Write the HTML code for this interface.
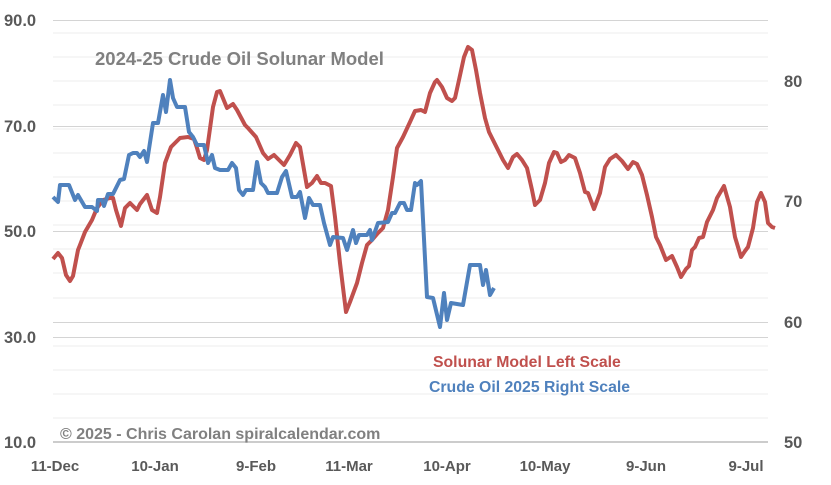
<!DOCTYPE html>
<html><head><meta charset="utf-8"><style>
html,body{margin:0;padding:0;background:#fff;}
svg{display:block;font-family:"Liberation Sans",Arial,sans-serif;font-weight:bold;}
</style></head><body>
<svg width="831" height="485" viewBox="0 0 831 485">
<g stroke="#ececec" stroke-width="1">
<line x1="53" x2="768" y1="418" y2="418"/><line x1="53" x2="768" y1="394" y2="394"/><line x1="53" x2="768" y1="370" y2="370"/><line x1="53" x2="768" y1="346" y2="346"/><line x1="53" x2="768" y1="298" y2="298"/><line x1="53" x2="768" y1="273" y2="273"/><line x1="53" x2="768" y1="249" y2="249"/><line x1="53" x2="768" y1="225" y2="225"/><line x1="53" x2="768" y1="177" y2="177"/><line x1="53" x2="768" y1="153" y2="153"/><line x1="53" x2="768" y1="129" y2="129"/><line x1="53" x2="768" y1="105" y2="105"/><line x1="53" x2="768" y1="57" y2="57"/><line x1="53" x2="768" y1="33" y2="33"/><line x1="53" x2="768" y1="81" y2="81"/><line x1="53" x2="768" y1="201" y2="201"/>
</g>
<g stroke="#d4d4d4" stroke-width="1">
<line x1="53" x2="768" y1="20.5" y2="20.5"/><line x1="53" x2="768" y1="126.5" y2="126.5"/><line x1="53" x2="768" y1="231.5" y2="231.5"/><line x1="53" x2="768" y1="337.5" y2="337.5"/><line x1="53" x2="768" y1="322.5" y2="322.5"/>
<line x1="53" x2="768" y1="442" y2="442" stroke="#ccc" stroke-width="2"/>
</g>
<g fill="#595959" font-size="16.5">
<text x="4" y="26">90.0</text><text x="4" y="132">70.0</text><text x="4" y="237">50.0</text><text x="4" y="343">30.0</text><text x="4" y="448">10.0</text>
<text x="784" y="87">80</text><text x="784" y="207">70</text><text x="784" y="328">60</text><text x="784" y="448">50</text>
</g>
<g fill="#595959" font-size="15" text-anchor="middle">
<text x="55" y="471">11-Dec</text><text x="155" y="471">10-Jan</text><text x="256" y="471">9-Feb</text><text x="349" y="471">11-Mar</text><text x="447" y="471">10-Apr</text><text x="545" y="471">10-May</text><text x="646" y="471">9-Jun</text><text x="746" y="471">9-Jul</text>
</g>
<text x="95" y="65" fill="#808080" font-size="18.5">2024-25 Crude Oil Solunar Model</text>
<text x="60" y="439" fill="#808080" font-size="16">© 2025 - Chris Carolan  spiralcalendar.com</text>
<text x="433" y="367" fill="#c0504d" font-size="15.8">Solunar Model Left Scale</text>
<text x="429" y="392" fill="#4f81bd" font-size="15.8">Crude Oil 2025 Right Scale</text>
<polyline fill="none" stroke="#c0504d" stroke-width="4" stroke-linejoin="round" points="53,259 58,253 62,258 66,275 70,281 73,276 78,250 80,245 85,232 92,220 97,208 103,200 110,198 113,198 116,210 121,226 125,208 130,203 137,210 140,204 147,195 152,210 157,213 160,197 165,163 171,147 180,138 188,137 194,139 197,148 200,158 204,160 207,150 213,107 217,92 220,91 227,108 233,104 237,110 245,125 248,128 256,137 263,153 268,159 274,155 282,163 284,165 290,155 296,143 300,147 307,187 312,183 317,176 321,183 325,183 331,186 335,217 340,263 346,312 350,302 357,283 362,263 367,245 372,240 378,233 383,228 388,210 393,177 397,148 403,137 410,122 415,111 421,110 425,112 430,93 435,82 437,80 442,87 447,98 452,101 455,98 459,80 464,57 468,47 472,50 476,70 480,93 485,118 489,132 497,148 503,160 508,168 513,157 517,154 522,160 527,168 532,190 535,205 540,200 545,183 549,163 554,152 557,153 561,162 565,160 569,155 575,158 578,167 580,173 585,192 588,193 594,209 600,193 605,167 610,159 616,155 622,161 628,169 633,162 637,164 642,175 647,195 652,217 656,237 660,245 666,260 672,256 677,267 681,277 686,269 689,266 692,250 695,247 699,238 703,237 707,222 713,210 717,198 724,186 730,207 735,237 741,257 745,251 748,247 753,228 757,202 761,193 765,202 768,223 772,227 775,228"/>
<polyline fill="none" stroke="#4f81bd" stroke-width="4" stroke-linejoin="round" points="53,197 58,202 60,185 69,185 75,200 78,195 85,207 92,207 97,211 98,200 102,200 104,206 108,194 113,194 120,180 124,179 129,155 133,153 137,153 140,157 144,151 147,162 153,123 158,123 163,95 166,112 170,80 173,98 177,107 185,107 189,132 193,137 197,145 204,145 208,163 212,155 215,168 220,170 228,170 232,163 236,168 239,190 243,195 246,190 253,190 257,162 261,183 265,187 268,193 277,193 282,177 286,171 292,197 297,197 300,192 305,218 309,198 313,205 320,205 324,223 330,245 333,237 343,238 347,250 353,230 356,243 359,235 367,235 370,230 372,240 378,223 388,222 392,213 395,213 400,203 404,203 407,210 411,210 415,183 417,185 421,181 427,297 433,298 440,327 444,293 447,320 451,303 463,305 470,265 480,265 483,285 486,270 490,295 494,288"/>
</svg>
</body></html>
